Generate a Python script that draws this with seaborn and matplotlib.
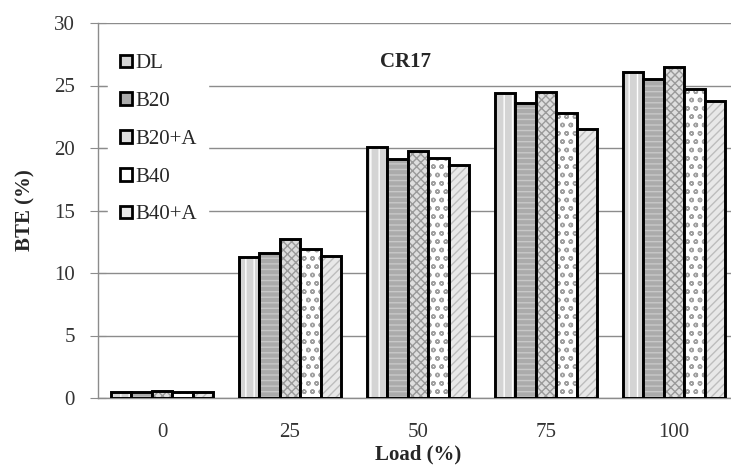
import matplotlib
matplotlib.use("Agg")
import matplotlib.pyplot as plt
import seaborn as sns
import pandas as pd
from matplotlib.colors import to_rgba

loads = ["0", "25", "50", "75", "100"]
fuels = ["DL", "B20", "B20+A", "B40", "B40+A"]
dl = [0.5, 11.3, 20.1, 24.4, 26.1]
b20 = [0.5, 11.6, 19.1, 23.6, 25.5]
b20a = [0.6, 12.7, 19.8, 24.5, 26.5]
b40 = [0.5, 11.9, 19.2, 22.8, 24.7]
b40a = [0.5, 11.4, 18.6, 21.5, 23.8]

series = {"DL": dl, "B20": b20, "B20+A": b20a, "B40": b40, "B40+A": b40a}
rows = []
for f in fuels:
    for l, v in zip(loads, series[f]):
        rows.append({"Load": l, "Fuel": f, "BTE": v})
df = pd.DataFrame(rows)

sns.set_style("white")
plt.rcParams["font.family"] = ["Liberation Serif", "DejaVu Serif"]

fig = plt.figure(figsize=(7.31, 4.70), dpi=100)
ax = fig.add_axes([98 / 731, 1 - 398 / 470, 640 / 731, 375 / 470])

faces = {"DL": "#d4d4d4", "B20": "#ababab", "B20+A": "#dedede", "B40": "#ffffff", "B40+A": "#e8e8e8"}
hatches = {"DL": "||", "B20": "---", "B20+A": "xxxx", "B40": "oo", "B40+A": "////"}
hcols = {"DL": "#ffffff", "B20": "#c8c8c8", "B20+A": "#9a9a9a", "B40": "#a0a0a0", "B40+A": "#bdbdbd"}

sns.barplot(data=df, x="Load", y="BTE", hue="Fuel", order=loads, hue_order=fuels,
            palette=faces, width=0.8, saturation=1, edgecolor="black",
            linewidth=2.1, ax=ax, zorder=3)

for cont, f in zip(ax.containers, fuels):
    for p in cont.patches:
        p.set_hatch(hatches[f])
        p._hatch_color = to_rgba(hcols[f])

ax.set_xlim(-0.5, 4.5)
ax.set_ylim(0, 30)
ax.set_yticks([0, 5, 10, 15, 20, 25, 30])
ax.yaxis.grid(True, color="#8c8c8c", linewidth=1.0, zorder=0)
ax.xaxis.grid(False)
ax.set_axisbelow(True)
for s in ["top", "right"]:
    ax.spines[s].set_visible(False)
for s in ["left", "bottom"]:
    ax.spines[s].set_color("#8c8c8c")
    ax.spines[s].set_linewidth(1.0)
ax.tick_params(axis="y", direction="inout", length=11.5, color="#8c8c8c", labelsize=15,
               labelcolor="#333333", left=True, pad=11)
ax.tick_params(axis="x", length=0, labelsize=15, labelcolor="#333333", pad=18)

ax.set_ylabel("BTE (%)", fontsize=15, fontweight="bold", labelpad=13)
ax.set_xlabel("Load (%)", fontsize=15, fontweight="bold", labelpad=2)

ax.text(0.48, 0.896, "CR17", transform=ax.transAxes, fontsize=15, fontweight="bold",
        ha="center", va="center")

handles, labels = ax.get_legend_handles_labels()
for h in handles:
    h.set_linewidth(2.0)
leg = ax.legend(handles, labels, loc="upper left", bbox_to_anchor=(0.016, 0.947),
                frameon=True, fontsize=15, handlelength=0.58, handleheight=0.58,
                handletextpad=0.15, labelspacing=0.9, borderpad=0.55, borderaxespad=0)
leg.get_frame().set_edgecolor("white")
leg.get_frame().set_facecolor("white")
leg.get_frame().set_alpha(1.0)
leg.get_frame().set_boxstyle("square", pad=0)
leg.set_zorder(5)

fig.savefig("out.png", dpi=100)
